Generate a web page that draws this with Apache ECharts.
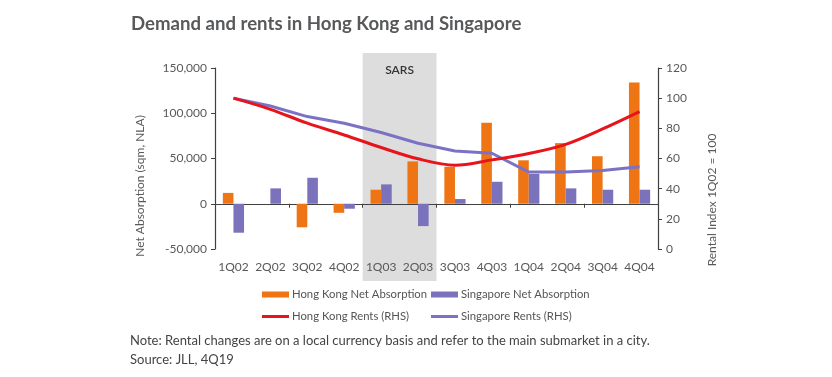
<!DOCTYPE html>
<html lang="en">
<head>
    <meta charset="UTF-8">
    <title>Demand and rents in Hong Kong and Singapore</title>
    <script src="https://cdn.jsdelivr.net/npm/echarts@6/dist/echarts.min.js"></script>
    <style>
        html, body { margin: 0; padding: 0; background: #fff; }
        #chart { width: 832px; height: 377px; }
    </style>
</head>
<body>
<div id="chart"></div>
<script>
    // quarters on the x axis
    var quarters = ['1Q02', '2Q02', '3Q02', '4Q02', '1Q03', '2Q03', '3Q03', '4Q03', '1Q04', '2Q04', '3Q04', '4Q04'];
    // net absorption, sqm NLA (left axis)
    var hkAbsorption = [12000, 0, -26000, -10000, 15500, 46800, 40900, 89500, 48000, 67000, 52500, 134000];
    var sgAbsorption = [-32000, 17000, 28700, -5500, 21400, -24700, 5200, 24300, 33000, 17000, 15500, 15500];
    // rental index, 1Q02 = 100 (right axis)
    var hkRents = [100, 92.6, 83.4, 75.6, 67.3, 59.8, 55.6, 59.1, 63.3, 69.4, 79.6, 91.1];
    var sgRents = [100, 94.8, 87.8, 83.4, 77.2, 70.1, 65, 63.5, 51, 51, 52, 54.5];
    var leftTicks = [-50000, 0, 50000, 100000, 150000];
    var rightTicks = [0, 20, 40, 60, 80, 100, 120];
    var sarsQuarters = ['1Q03', '2Q03'];

    var FONT = 'Lato, "Noto Sans", sans-serif';
    var ORANGE = '#EE7414';
    var PURPLE = '#7A72BA';
    var RED = '#E8141C';
    var LINE_PURPLE = '#7B72C4';
    var AXIS = '#404040';
    var LABEL = '#595959';

    var chart = echarts.init(document.getElementById('chart'));

    function fmt(v) {
        return v.toString().replace(/\B(?=(\d{3})+(?!\d))/g, ',');
    }

    function legendBox(name, left, top, h, color) {
        return {
            data: [{name: name, icon: 'rect', itemStyle: {color: color}}],
            left: left, top: top,
            itemWidth: 27, itemHeight: h, itemGap: 0,
            padding: 0,
            selectedMode: false,
            textStyle: {fontFamily: FONT, fontSize: 11.3, color: '#555', padding: [0, 0, 0, -2]}
        };
    }

    var option = {
        animation: false,
        textStyle: {fontFamily: FONT},
        title: {
            text: 'Demand and rents in Hong Kong and Singapore',
            left: 126, top: 9,
            textStyle: {fontFamily: FONT, fontSize: 18.6, fontWeight: 'bold', color: '#58595B'}
        },
        legend: [
            legendBox('Hong Kong Net Absorption', 262, 289, 6, ORANGE),
            legendBox('Singapore Net Absorption', 431, 289, 6, PURPLE),
            legendBox('Hong Kong Rents (RHS)', 262, 311, 3, RED),
            legendBox('Singapore Rents (RHS)', 431, 311, 3, LINE_PURPLE)
        ],
        grid: {left: 215, right: 174, top: 68, bottom: 128, containLabel: false},
        xAxis: [
            {
                // zero line with ticks between quarters
                type: 'category',
                data: quarters,
                position: 'top',
                axisLine: {onZero: true, lineStyle: {color: AXIS, width: 1.2}},
                axisTick: {show: true, inside: true, length: 4, lineStyle: {color: AXIS}},
                axisLabel: {show: false}
            },
            {
                // labels along the bottom
                type: 'category',
                data: quarters,
                position: 'bottom',
                axisLine: {show: false, onZero: false},
                axisTick: {show: false},
                axisLabel: {interval: 0, margin: 12, fontFamily: FONT, fontSize: 12, color: LABEL}
            }
        ],
        yAxis: [
            {
                type: 'value',
                min: leftTicks[0], max: leftTicks[leftTicks.length - 1], interval: 50000,
                position: 'left',
                axisLine: {show: true, lineStyle: {color: AXIS, width: 1.2}},
                axisTick: {show: true, length: 4, lineStyle: {color: AXIS}},
                splitLine: {show: false},
                axisLabel: {margin: 8, fontFamily: FONT, fontSize: 12, color: LABEL, formatter: fmt}
            },
            {
                type: 'value',
                min: rightTicks[0], max: rightTicks[rightTicks.length - 1], interval: 20,
                position: 'right',
                axisLine: {show: true, lineStyle: {color: AXIS, width: 1.2}},
                axisTick: {show: true, length: 4, lineStyle: {color: AXIS}},
                splitLine: {show: false},
                axisLabel: {margin: 8, fontFamily: FONT, fontSize: 12, color: LABEL}
            }
        ],
        series: [
            {
                name: 'Hong Kong Net Absorption', type: 'bar',
                xAxisIndex: 0, yAxisIndex: 0,
                data: hkAbsorption, barWidth: 10.6, barGap: '0%',
                itemStyle: {color: ORANGE}, z: 3
            },
            {
                name: 'Singapore Net Absorption', type: 'bar',
                xAxisIndex: 0, yAxisIndex: 0,
                data: sgAbsorption, barWidth: 10.6, barGap: '0%',
                itemStyle: {color: PURPLE}, z: 3
            },
            {
                name: 'Hong Kong Rents (RHS)', type: 'line',
                xAxisIndex: 0, yAxisIndex: 1,
                data: hkRents, smooth: 0.35, showSymbol: false,
                lineStyle: {color: RED, width: 3}, itemStyle: {color: RED}, z: 5
            },
            {
                name: 'Singapore Rents (RHS)', type: 'line',
                xAxisIndex: 0, yAxisIndex: 1,
                data: sgRents, showSymbol: false,
                lineStyle: {color: LINE_PURPLE, width: 3}, itemStyle: {color: LINE_PURPLE}, z: 4
            }
        ]
    };
    chart.setOption(option);

    // SARS band placed from the bar series' own axes
    var i0 = quarters.indexOf(sarsQuarters[0]);
    var i1 = quarters.indexOf(sarsQuarters[1]);
    var finder = {xAxisIndex: 0, yAxisIndex: 0};
    var pTop = chart.convertToPixel(finder, [i0, leftTicks[leftTicks.length - 1]]);
    var pBot = chart.convertToPixel(finder, [i1, leftTicks[0]]);
    var pPrev = chart.convertToPixel(finder, [i0 - 1, 0]);
    var bw = pTop[0] - pPrev[0];
    var x0 = pTop[0] - bw / 2;
    var x1 = pBot[0] + bw / 2;

    chart.setOption({
        graphic: [
            {
                type: 'rect', z: -1, silent: true,
                shape: {x: x0, y: pTop[1] - 15, width: x1 - x0, height: pBot[1] - pTop[1] + 47},
                style: {fill: '#DDDDDD'}
            },
            {
                type: 'text', z: 1,
                x: (x0 + x1) / 2, y: pTop[1] + 2,
                style: {text: 'SARS', fill: '#333', font: '600 12px ' + FONT, align: 'center', verticalAlign: 'middle'}
            },
            {
                type: 'text', z: 1,
                x: 140, y: 186, rotation: Math.PI / 2,
                style: {text: 'Net Absorption (sqm, NLA)', fill: LABEL, font: '12px ' + FONT, align: 'center', verticalAlign: 'middle'}
            },
            {
                type: 'text', z: 1,
                x: 712, y: 200, rotation: Math.PI / 2,
                style: {text: 'Rental Index 1Q02 = 100', fill: LABEL, font: '12px ' + FONT, align: 'center', verticalAlign: 'middle'}
            },
            {
                type: 'text', z: 1,
                x: 130, y: 341,
                style: {text: 'Note: Rental changes are on a local currency basis and refer to the main submarket in a city.', fill: '#444', font: '13px ' + FONT, verticalAlign: 'middle'}
            },
            {
                type: 'text', z: 1,
                x: 130, y: 360,
                style: {text: 'Source: JLL, 4Q19', fill: '#444', font: '13px ' + FONT, verticalAlign: 'middle'}
            }
        ]
    });
</script>
</body>
</html>
